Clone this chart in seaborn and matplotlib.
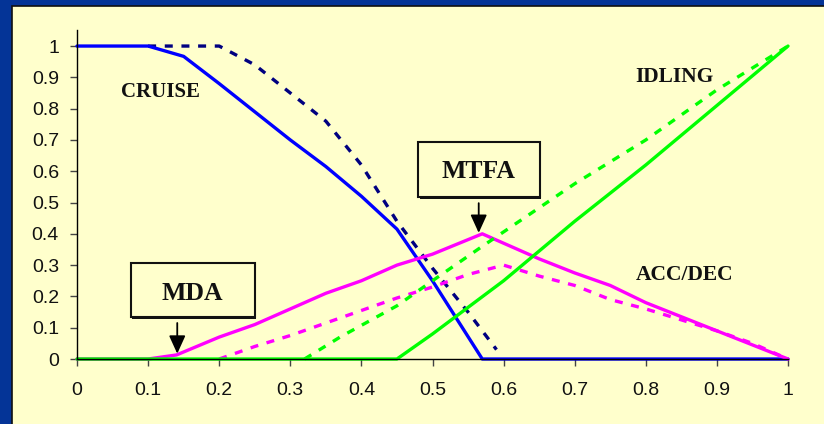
import seaborn as sns
import pandas as pd
import numpy as np
import matplotlib.pyplot as plt
from matplotlib.patches import Rectangle
from matplotlib.ticker import FuncFormatter, MultipleLocator

# curves
cruise_x = [0, 0.1, 0.15, 0.2, 0.25, 0.3, 0.35, 0.4, 0.45, 0.5, 0.57, 1.0]
cruise_y = [1, 1, 0.967, 0.88, 0.79, 0.70, 0.615, 0.52, 0.415, 0.25, 0, 0]
cruise2_x = [0.1, 0.2, 0.25, 0.3, 0.35, 0.4, 0.45, 0.5, 0.55, 0.59]
cruise2_y = [1, 1, 0.94, 0.85, 0.76, 0.62, 0.44, 0.29, 0.15, 0.03]

acc_x = [0, 0.1, 0.14, 0.2, 0.25, 0.3, 0.35, 0.4, 0.45, 0.5, 0.57, 0.6, 0.65,
         0.7, 0.75, 0.8, 0.85, 0.9, 0.95, 1.0]
acc_y = [0, 0, 0.013, 0.07, 0.11, 0.16, 0.21, 0.25, 0.30, 0.335, 0.40, 0.37,
         0.32, 0.275, 0.235, 0.18, 0.135, 0.09, 0.045, 0]
acc2_x = [0.2, 0.25, 0.3, 0.35, 0.4, 0.45, 0.5, 0.55, 0.6, 0.65, 0.7, 0.75,
          0.8, 0.85, 0.9, 0.95, 1.0]
acc2_y = [0, 0.04, 0.075, 0.115, 0.155, 0.195, 0.23, 0.27, 0.30, 0.265, 0.235,
          0.19, 0.16, 0.125, 0.09, 0.05, 0]

idle_x = [0, 0.45, 0.5, 0.6, 0.7, 0.8, 0.9, 1.0]
idle_y = [0, 0, 0.08, 0.25, 0.44, 0.62, 0.81, 1.0]
idle2_x = [0.32, 0.37, 0.45, 0.5, 0.57, 0.7, 0.8, 0.9, 1.0]
idle2_y = [0, 0.07, 0.17, 0.25, 0.36, 0.56, 0.70, 0.86, 1.0]

#%% plot
sns.set_style("ticks")
plt.rcParams['font.family'] = ['Liberation Sans', 'DejaVu Sans']

fig = plt.figure(figsize=(8.24, 4.24), dpi=100, facecolor="#043497")
panel = Rectangle((12/824, -0.01), 1.0, 1 - 6/424 + 0.01,
                  transform=fig.transFigure, facecolor="#FFFFCC",
                  edgecolor="#111111", lw=1.2, zorder=-10)
fig.patches.append(panel)

ax = fig.add_axes([77/824, 1 - 359/424, 711/824, 328.6/424])
ax.set_facecolor("none")

series = [
    (cruise2_x, cruise2_y, "#000080", (0, (2.4, 2.6))),
    (cruise_x, cruise_y, "#0000FF", "-"),
    (acc2_x, acc2_y, "#FF00FF", (0, (2.4, 2.6))),
    (acc_x, acc_y, "#FF00FF", "-"),
    (idle2_x, idle2_y, "#00FF00", (0, (2.4, 2.6))),
    (idle_x, idle_y, "#00FF00", "-"),
]
for xs, ys, col, ls in series:
    sns.lineplot(x=xs, y=ys, color=col, linewidth=2.4, linestyle=ls,
                 sort=False, estimator=None, ax=ax, clip_on=False)

ax.set_xlim(0, 1)
ax.set_ylim(0, 1.05)
ax.xaxis.set_major_locator(MultipleLocator(0.1))
ax.yaxis.set_major_locator(MultipleLocator(0.1))
fmt = FuncFormatter(lambda v, p: "{:g}".format(round(v, 1)))
ax.xaxis.set_major_formatter(fmt)
ax.yaxis.set_major_formatter(fmt)
sns.despine(ax=ax)
for s in ["left", "bottom"]:
    ax.spines[s].set_color("black")
    ax.spines[s].set_linewidth(1.0)
ax.tick_params(axis="both", length=5, width=1, color="#444444",
               labelsize=14, labelcolor="#111111")
ax.tick_params(axis="x", pad=11.5)
ax.tick_params(axis="y", pad=8)
ax.set_xlabel("")
ax.set_ylabel("")

# labels
serif = ['Liberation Serif', 'DejaVu Serif']
ax.text(0.117, 0.837, "CRUISE", family=serif, fontweight="bold", fontsize=15,
        ha="center", va="baseline", color="#111111")
ax.text(0.841, 0.886, "IDLING", family=serif, fontweight="bold", fontsize=15.5,
        ha="center", va="baseline", color="#111111")
ax.text(0.855, 0.252, "ACC/DEC", family=serif, fontweight="bold", fontsize=15.5,
        ha="center", va="baseline", color="#111111")

# boxed callouts with arrows
for (x0, x1, y0, y1), label, tx, ty, ax_x, y_from, y_to in [
        ((0.076, 0.250, 0.134, 0.306), "MDA", 0.1624, 0.19, 0.141, 0.115, 0.017),
        ((0.480, 0.651, 0.518, 0.693), "MTFA", 0.565, 0.577, 0.565, 0.498, 0.403)]:
    ax.add_patch(Rectangle((x0 + 0.002, y0 - 0.006), x1 - x0, y1 - y0,
                           facecolor="#111111", edgecolor="none", zorder=4))
    ax.add_patch(Rectangle((x0, y0), x1 - x0, y1 - y0, facecolor="#FFFFCC",
                           edgecolor="#111111", lw=1.5, zorder=5))
    ax.text(tx, ty, label, family=serif, fontweight="bold", fontsize=18.5,
            ha="center", va="baseline", color="#111111", zorder=6)
    ax.annotate("", xy=(ax_x, y_to), xytext=(ax_x, y_from),
                arrowprops=dict(arrowstyle="-|>,head_length=1.1,head_width=0.5",
                                color="black", lw=1.3, shrinkA=0, shrinkB=0),
                zorder=6)

fig.savefig("out.png", dpi=100, facecolor=fig.get_facecolor())
